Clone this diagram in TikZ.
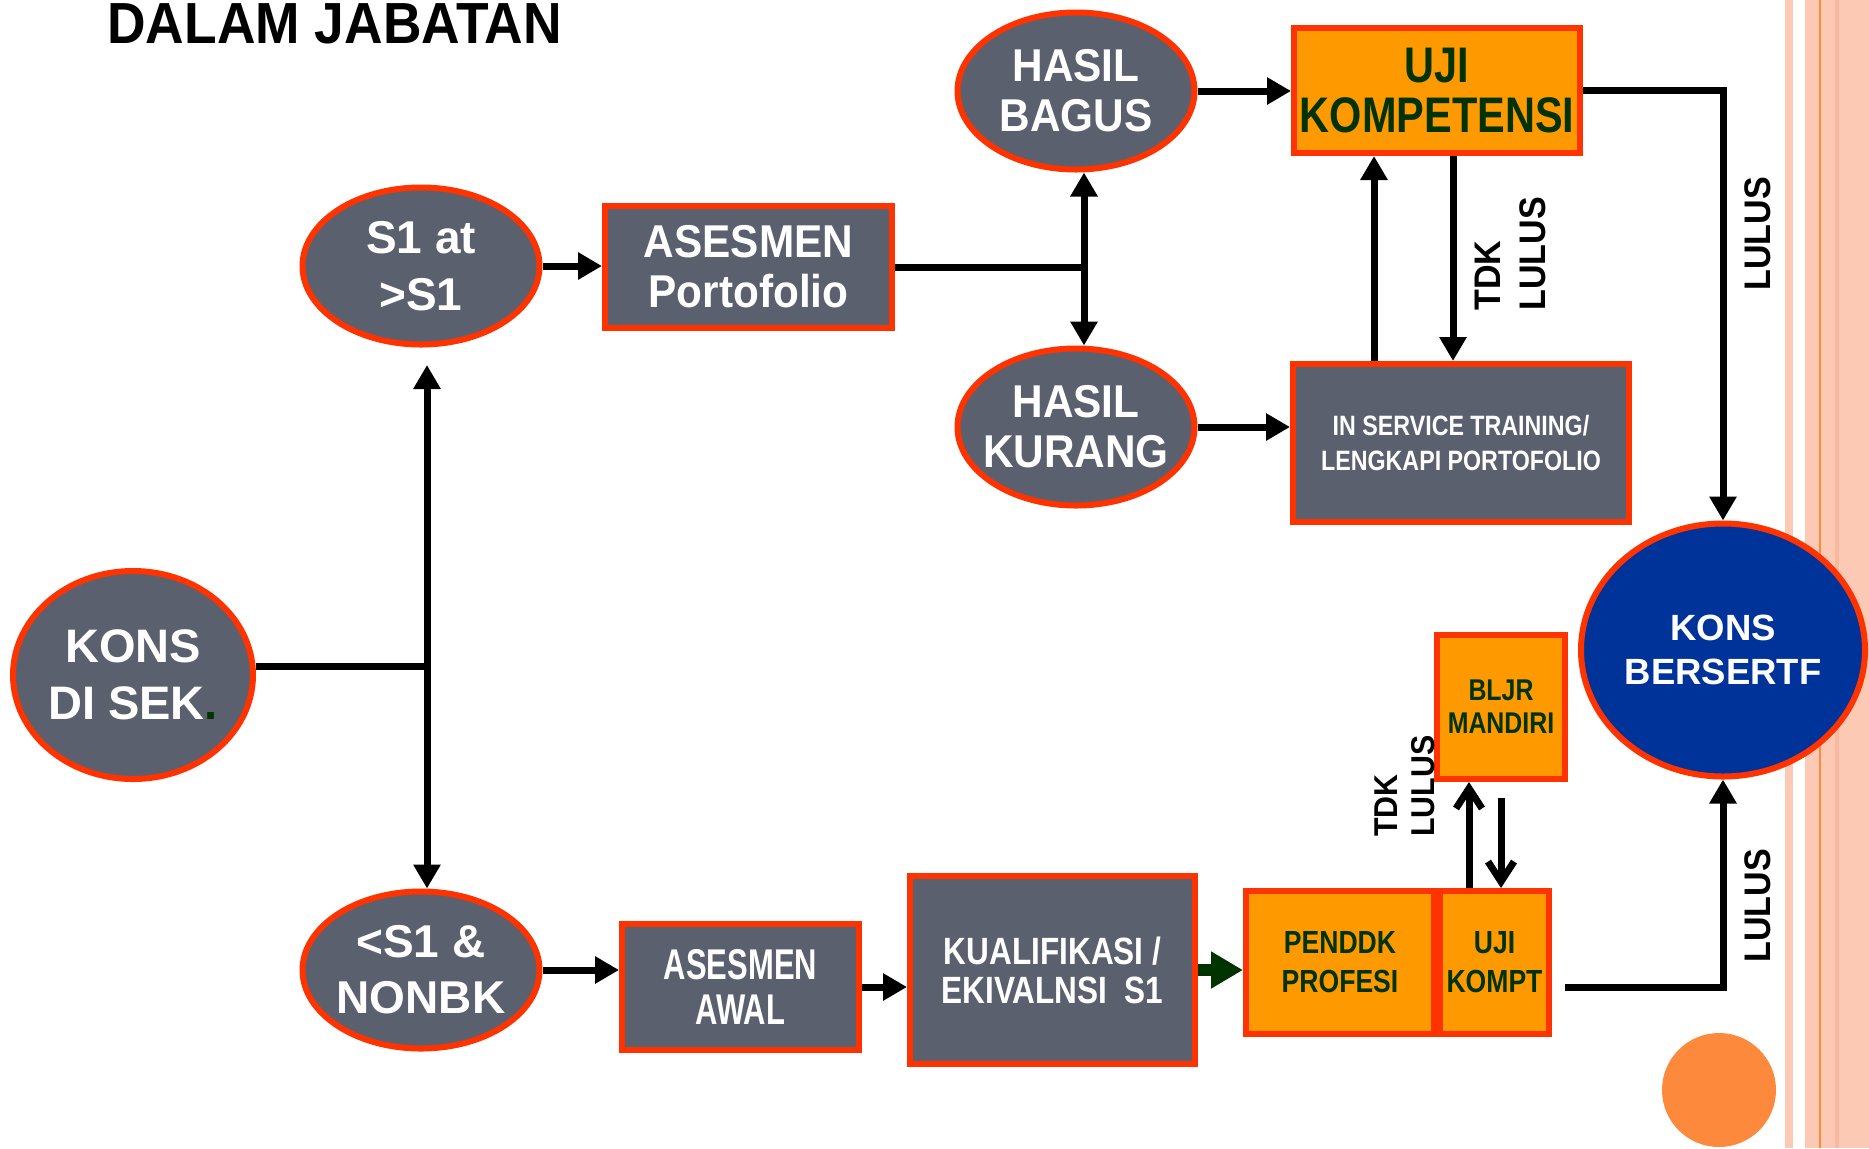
\documentclass[tikz,border=0pt]{standalone}
\usepackage{fontspec}
\setmainfont{Liberation Sans}
\newfontfamily\wideface{Liberation Sans}
\newfontfamily\slimface[FakeStretch=0.92]{Liberation Sans}
\newfontfamily\narrowface[FakeStretch=0.83]{Liberation Sans}
\newfontfamily\tightface[FakeStretch=0.72]{Liberation Sans}
\usetikzlibrary{shapes.geometric, arrows.meta}
\definecolor{boxgray}{HTML}{5A606D}
\definecolor{rimred}{HTML}{FF3300}
\definecolor{boxorange}{HTML}{FF9900}
\definecolor{inkgreen}{HTML}{003300}
\definecolor{certblue}{HTML}{003399}
\definecolor{stripepeach}{HTML}{FCC9B4}
\definecolor{stripedeep}{HTML}{F9B99E}
\definecolor{stripeline}{HTML}{FF8A3D}
\definecolor{dotorange}{HTML}{FD8A3C}
\newcommand*\fsz[2]{\fontsize{#1}{#2}\selectfont\bfseries}
\tikzset{
    rim/.style={draw=rimred, line width=3pt},
    gray oval/.style={rim, ellipse, fill=boxgray, text=white, inner sep=-6pt,
        minimum width=118.5pt, minimum height=78.5pt, align=center},
    gray box/.style={rim, rectangle, fill=boxgray, text=white, inner sep=0pt, align=center},
    gold box/.style={rim, rectangle, fill=boxorange, text=inkgreen, inner sep=0pt, align=center},
    flow/.style={line width=3.5pt, -{Triangle[length=12pt, width=13pt]}},
    flow line/.style={line width=3.5pt},
    back flow/.style={line width=3.5pt, -{Straight Barb[length=10pt, width=13pt]}},
    side label/.style={rotate=90, inner sep=0pt, align=left}
}

\begin{document}
\begin{tikzpicture}[x=0.5pt, y=-0.5pt]
    \useasboundingbox (0,0) rectangle (1869,1148);
    \fill[stripepeach] (1785,0) rectangle (1793,1148);
    \fill[stripepeach] (1805,0) rectangle (1869,1148);
    \fill[stripedeep] (1835,0) rectangle (1839,1148);
    \draw[stripeline, line width=1pt] (1820,0) -- (1820,1148);
    \fill[dotorange] (1719,1090) circle[radius=28.5pt];

    \node[anchor=base west, inner sep=0pt, font=\slimface\fsz{29}{30}] (title) at (107,43) {DALAM JABATAN};

    \node[gray oval, minimum width=120pt, minimum height=104pt, font=\wideface\fsz{23.5}{28.5}] (konssek) at (133,675) {KONS\\DI SEK\textcolor{inkgreen}{.}};
    \node[gray oval, font=\wideface\fsz{23}{28.5}] (sone) at (421,266) {S1 at\\>S1};
    \node[gray oval, font=\wideface\fsz{23}{28}] (nonbk) at (421,970) {<S1 \&\\NONBK};
    \node[gray oval, font=\slimface\fsz{23}{25}] (bagus) at (1076,91) {HASIL\\BAGUS};
    \node[gray oval, font=\slimface\fsz{23}{25}] (kurang) at (1076,427) {HASIL\\KURANG};
    \node[gray oval, fill=certblue, minimum width=142pt, minimum height=126.5pt, font=\wideface\fsz{18.25}{22}] (bersertf) at (1723,650) {KONS\\BERSERTF};

    \node[gray box, minimum width=143.5pt, minimum height=61pt, font=\slimface\fsz{23}{25}] (portofolio) at (748.5,267) {ASESMEN\\Portofolio};
    \node[gold box, minimum width=143pt, minimum height=62.5pt, font=\narrowface\fsz{25}{25}] (ujikomp) at (1437,90.5) {UJI\\KOMPETENSI};
    \node[gray box, minimum width=168pt, minimum height=79pt, font=\narrowface\fsz{14}{17.5}] (training) at (1461,443) {IN SERVICE TRAINING/\\LENGKAPI PORTOFOLIO};
    \node[gray box, minimum width=118.5pt, minimum height=63pt, font=\tightface\fsz{21.5}{22.5}] (awal) at (740.5,987) {ASESMEN\\AWAL};
    \node[gray box, minimum width=142.5pt, minimum height=94pt, font=\narrowface\fsz{19}{19.5}] (kualif) at (1052.5,970) {KUALIFIKASI /\\EKIVALNSI\ \ S1};
    \node[gold box, minimum width=94pt, minimum height=71.5pt, font=\narrowface\fsz{16}{19.5}] (profesi) at (1340,962.5) {PENDDK\\PROFESI};
    \node[gold box, minimum width=54.5pt, minimum height=71.5pt, font=\narrowface\fsz{16}{19.5}] (kompt) at (1494.5,962.5) {UJI\\KOMPT};
    \node[gold box, minimum width=64pt, minimum height=72pt, font=\narrowface\fsz{15}{16.5}] (mandiri) at (1501,707) {BLJR\\MANDIRI};

    \node[side label, anchor=west, font=\slimface\fsz{18.5}{22.5}] (tdkup) at (1510,311) {TDK\\LULUS};
    \node[side label, anchor=west, font=\slimface\fsz{16.5}{18.5}] (tdkdown) at (1405,837) {TDK\\LULUS};
    \node[side label, font=\slimface\fsz{18.5}{22.5}] (lulusup) at (1758,234) {LULUS};
    \node[side label, font=\slimface\fsz{18.5}{22.5}] (lulusdown) at (1758,906) {LULUS};

    \coordinate (split) at (427,666);
    \coordinate (uptip) at (427,365);
    \coordinate (fork) at (1084,267);
    \coordinate (komptout) at (1565,987);

    \draw[flow line] (konssek.east |- split) -- (split);
    \draw[flow] (split) -- (uptip);
    \draw[flow] (split) -- (split |- nonbk.north);
    \draw[flow] (sone.east) -- (sone.east -| portofolio.west);
    \draw[flow line] (portofolio.east) -- (fork);
    \draw[flow] (fork) -- (fork |- bagus.south);
    \draw[flow] (fork) -- (fork |- kurang.north);
    \draw[flow] (bagus.east) -- (bagus.east -| ujikomp.west);
    \draw[flow] (kurang.east) -- (kurang.east -| training.west);
    \draw[flow] ([xshift=-4pt]training.north |- ujikomp.south) -- ([xshift=-4pt]training.north);
    \draw[flow] ([xshift=-43.5pt]training.north) -- ([xshift=-43.5pt]training.north |- ujikomp.south);
    \draw[flow] (ujikomp.east) -| (bersertf.north);
    \draw[flow] (komptout) -| (bersertf.south);
    \draw[flow] (nonbk.east) -- (nonbk.east -| awal.west);
    \draw[flow] (awal.east) -- (awal.east -| kualif.west);
    \draw[inkgreen, line width=6pt, -{Triangle[length=16pt, width=17.5pt]}] (kualif.east) -- (kualif.east -| profesi.west);
    \draw[back flow] ([xshift=-12.75pt]kompt.north) -- ([xshift=-12.75pt]kompt.north |- mandiri.south);
    \draw[back flow] ([yshift=-8pt]mandiri.south) -- (mandiri.south |- kompt.north);
\end{tikzpicture}
\end{document}
